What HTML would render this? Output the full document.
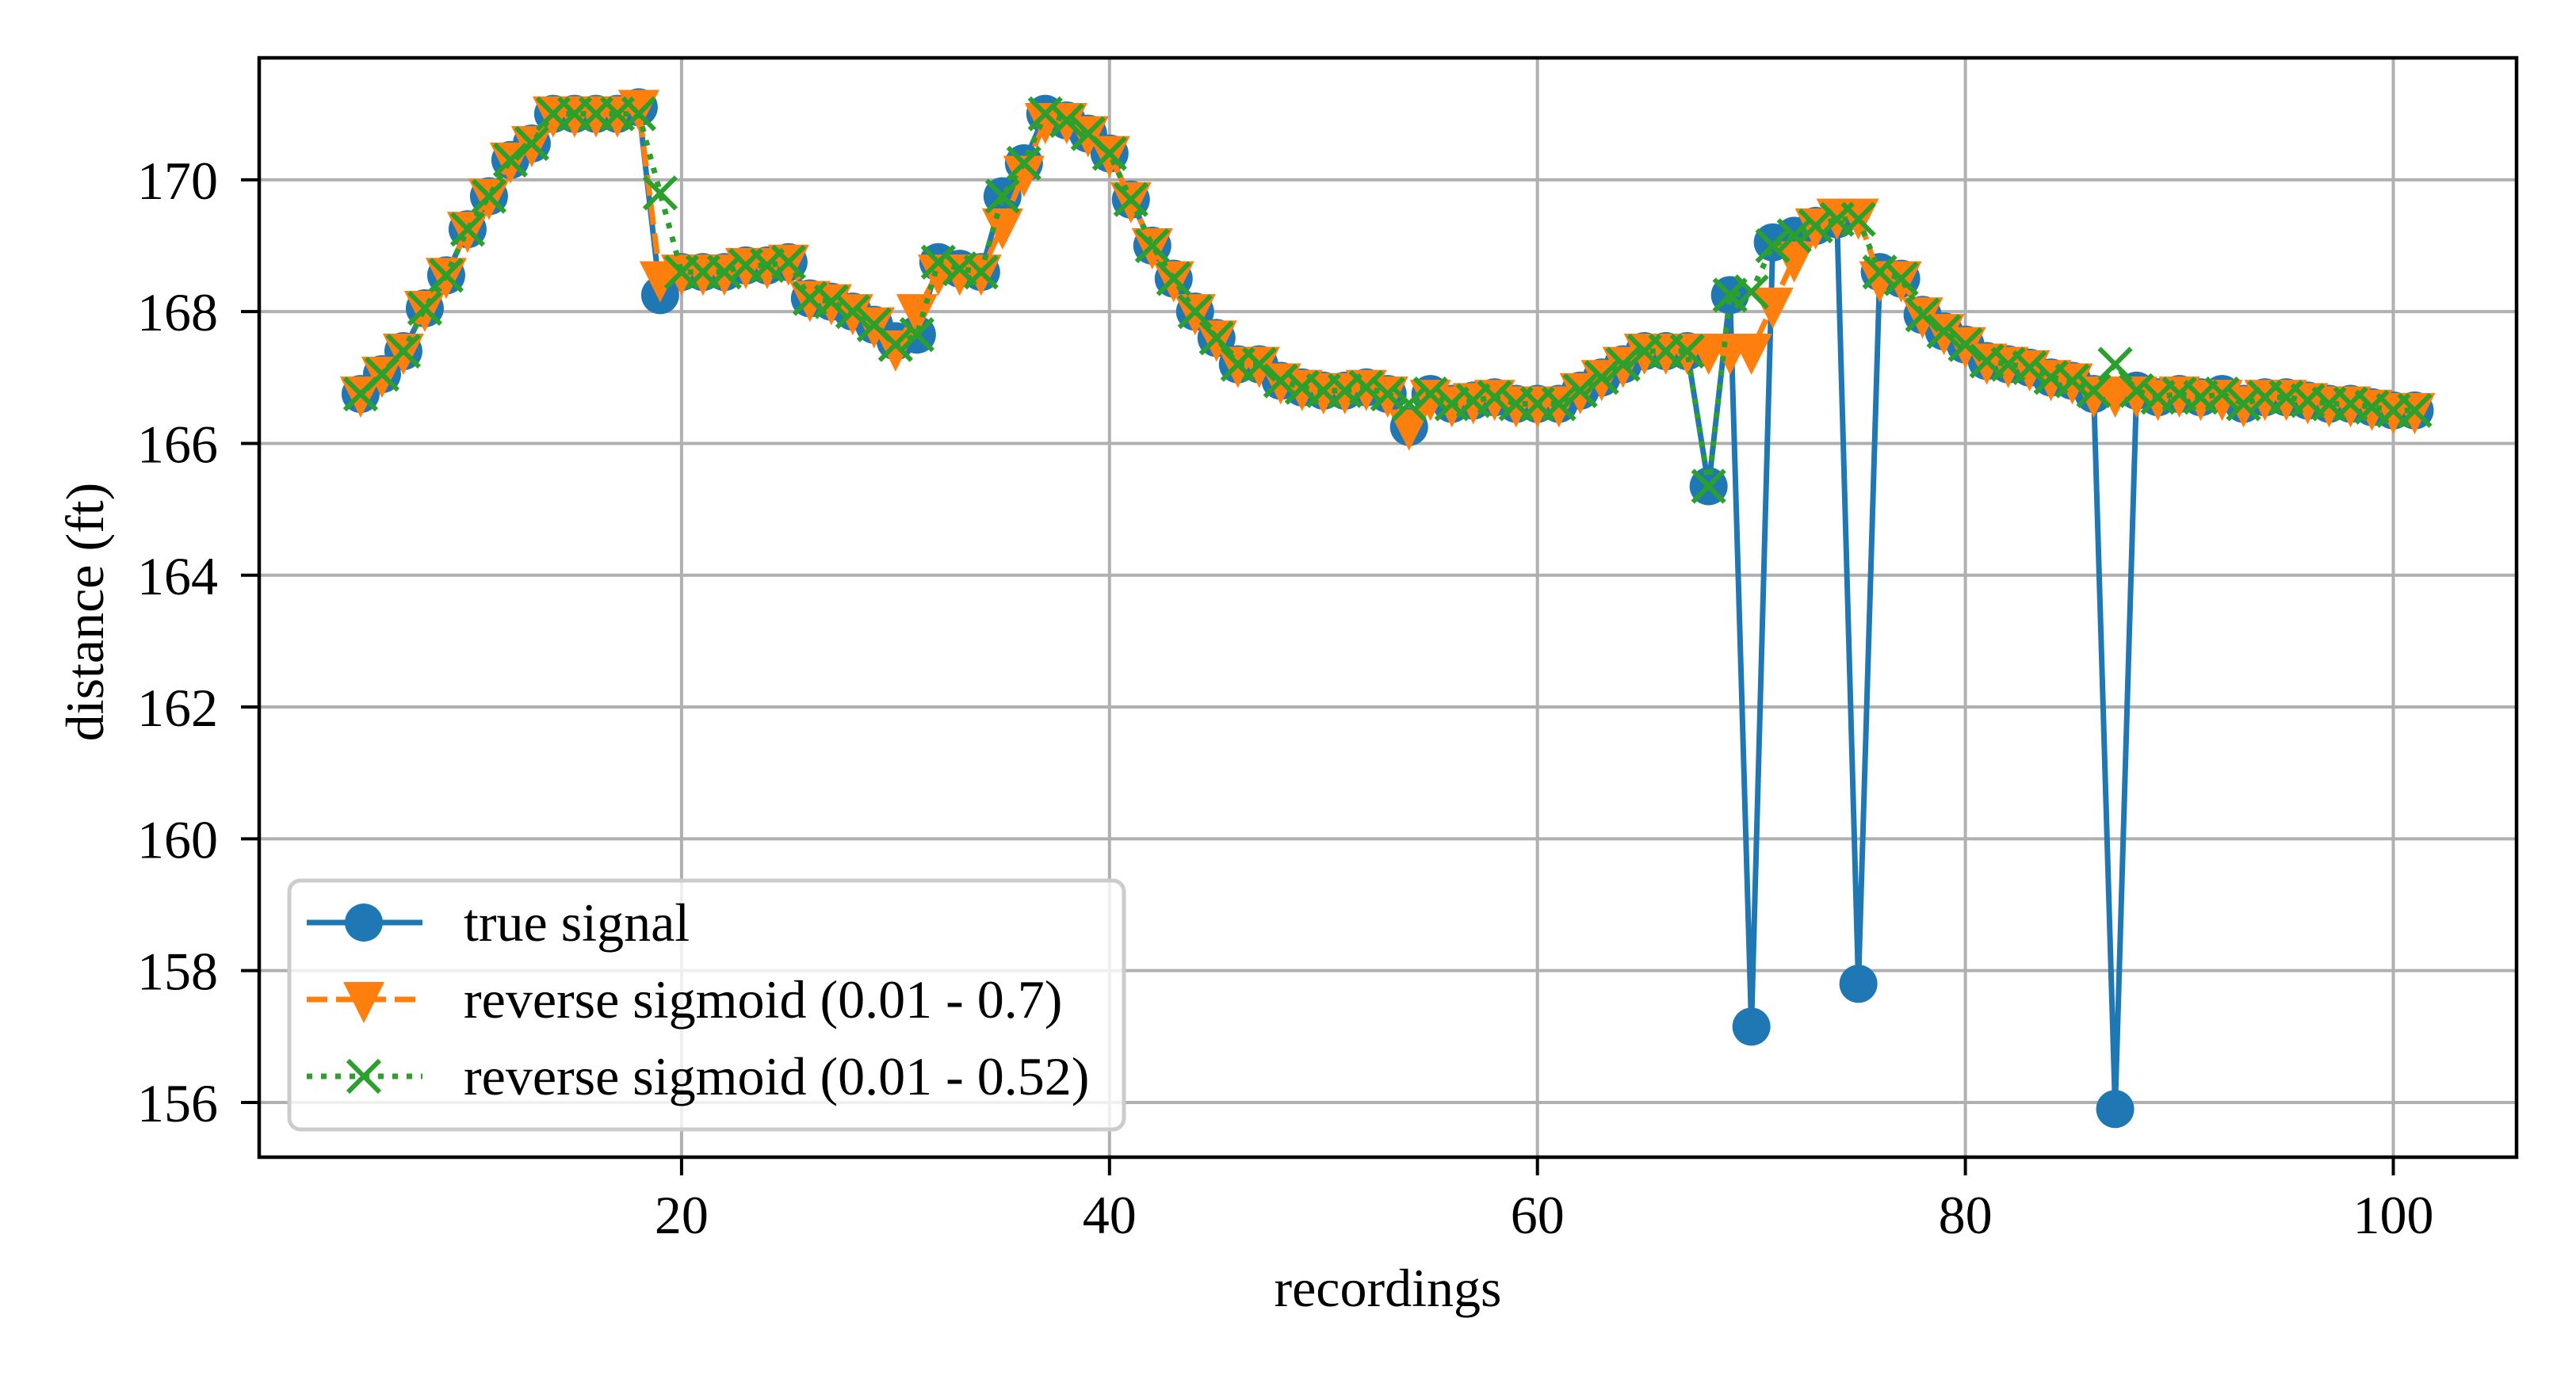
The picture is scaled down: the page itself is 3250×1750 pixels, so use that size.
<!DOCTYPE html>
<html><head><meta charset="utf-8"><style>
html,body{margin:0;padding:0;background:#fff;}
svg{display:block;font-family:"Liberation Serif","DejaVu Serif",serif;}
</style></head><body>
<svg id="chart" width="3250" height="1750" viewBox="0 0 3250 1750" xmlns="http://www.w3.org/2000/svg">
<rect width="3250" height="1750" fill="#fff"/>
<g id="grid"></g>
<g id="series"></g>
<rect x="327" y="73" width="2848" height="1387" fill="none" stroke="#000" stroke-width="4.5"/>
<g id="ticks"></g>
<text x="1751" y="1648" font-size="68" text-anchor="middle">recordings</text>
<text x="130" y="772" font-size="68" text-anchor="middle" transform="rotate(-90 130 772)">distance (ft)</text>
<g id="legend"></g>
</svg>
<script>
const xs = [];
for (let i = 5; i <= 101; i++) xs.push(i);
const trueSignal = [166.75,167.05,167.4,168.05,168.55,169.25,169.75,170.3,170.55,171.0,171.0,171.0,171.0,171.1,168.25,168.6,168.6,168.6,168.7,168.7,168.75,168.2,168.15,168.0,167.8,167.55,167.65,168.75,168.65,168.6,169.75,170.25,171.0,170.9,170.7,170.4,169.7,169.0,168.5,168.0,167.6,167.2,167.2,166.95,166.85,166.8,166.8,166.85,166.75,166.25,166.75,166.6,166.65,166.7,166.6,166.6,166.6,166.8,167.0,167.2,167.4,167.4,167.4,165.35,168.25,157.15,169.05,169.15,169.3,169.4,157.8,168.6,168.5,167.95,167.7,167.5,167.25,167.2,167.15,167.0,166.95,166.75,155.9,166.8,166.7,166.75,166.7,166.75,166.6,166.7,166.7,166.65,166.6,166.6,166.55,166.5,166.5];
const sigmoid07 = [166.75,167.05,167.4,168.05,168.55,169.25,169.75,170.3,170.55,171.0,171.0,171.0,171.0,171.1,168.5,168.6,168.6,168.6,168.7,168.7,168.75,168.2,168.15,168.0,167.8,167.45,168.0,168.6,168.6,168.6,169.3,170.1,170.9,170.9,170.7,170.4,169.7,169.0,168.5,168.0,167.6,167.2,167.2,166.95,166.85,166.8,166.8,166.85,166.75,166.25,166.7,166.6,166.65,166.7,166.6,166.6,166.6,166.8,167.0,167.2,167.4,167.4,167.4,167.4,167.4,167.4,168.1,168.8,169.3,169.45,169.45,168.5,168.5,167.95,167.7,167.5,167.25,167.2,167.15,167.0,166.95,166.75,166.75,166.75,166.7,166.75,166.7,166.7,166.6,166.7,166.7,166.65,166.6,166.6,166.55,166.5,166.5];
const sigmoid052 = [166.75,167.05,167.4,168.05,168.55,169.25,169.75,170.3,170.55,171.0,171.0,171.0,171.0,171.0,169.8,168.6,168.6,168.6,168.7,168.7,168.75,168.2,168.15,168.0,167.8,167.5,167.65,168.75,168.65,168.6,169.75,170.25,171.0,170.9,170.7,170.4,169.7,169.0,168.5,168.0,167.6,167.2,167.2,166.95,166.85,166.8,166.8,166.85,166.75,166.6,166.75,166.6,166.65,166.7,166.6,166.6,166.6,166.8,167.0,167.2,167.4,167.4,167.4,165.35,168.25,168.3,169.0,169.15,169.3,169.4,169.4,168.6,168.5,167.95,167.7,167.5,167.25,167.2,167.15,167.0,166.95,166.8,167.2,166.8,166.7,166.75,166.7,166.75,166.6,166.7,166.7,166.65,166.6,166.6,166.55,166.5,166.5];
const xTicks = [20,40,60,80,100];
const yTicks = [156,158,160,162,164,166,168,170];
const legendLabels = ["true signal","reverse sigmoid (0.01 - 0.7)","reverse sigmoid (0.01 - 0.52)"];

const L=327,R=3175,T=73,B=1460;
const X0=0.26,X1=105.76,Y0=155.17,Y1=171.85;
const sx=v=>L+(v-X0)/(X1-X0)*(R-L);
const sy=v=>B-(v-Y0)/(Y1-Y0)*(B-T);
const NS="http://www.w3.org/2000/svg";
function mk(tag,attrs,parent){const e=document.createElementNS(NS,tag);for(const k in attrs)e.setAttribute(k,attrs[k]);parent.appendChild(e);return e;}
const grid=document.getElementById('grid'),ticks=document.getElementById('ticks'),ser=document.getElementById('series'),leg=document.getElementById('legend');

xTicks.forEach(t=>{
  const g=mk('line',{x1:sx(t),x2:sx(t),y1:T,y2:B,stroke:'#b0b0b0','stroke-width':4},grid);
  
  
  const tk=mk('line',{x1:sx(t),x2:sx(t),y1:B,y2:B+23,stroke:'#000','stroke-width':4},ticks);
  
  
  const tx=mk('text',{x:sx(t),y:1556,'font-size':68,'text-anchor':'middle'},ticks);
  tx.textContent=t;
  
  
});
yTicks.forEach(t=>{
  const g=mk('line',{x1:L,x2:R,y1:sy(t),y2:sy(t),stroke:'#b0b0b0','stroke-width':4},grid);
  
  
  const tk=mk('line',{x1:L-23,x2:L,y1:sy(t),y2:sy(t),stroke:'#000','stroke-width':4},ticks);
  
  
  const tx=mk('text',{x:275,y:sy(t)+24,'font-size':68,'text-anchor':'end'},ticks);
  tx.textContent=t;
  
  
});

function marker(kind,x,y,color,parent){
  let e;
  if(kind==='o') e=mk('circle',{cx:x,cy:y,r:24,fill:color},parent);
  else if(kind==='v') e=mk('path',{d:`M${x-26},${y-22}L${x+26},${y-22}L${x},${y+30}Z`,fill:color},parent);
  else e=mk('path',{d:`M${x-20},${y-20}L${x+20},${y+20}M${x-20},${y+20}L${x+20},${y-20}`,stroke:color,'stroke-width':6,fill:'none'},parent);
  return e;
}
const specs=[
  {data:trueSignal,color:'#1f77b4',dash:'',m:'o',name:'true-signal'},
  {data:sigmoid07,color:'#ff7f0e',dash:'26,11',m:'v',name:'reverse-sigmoid-0-7'},
  {data:sigmoid052,color:'#2ca02c',dash:'7,11',m:'x',name:'reverse-sigmoid-0-52'}
];
specs.forEach(s=>{
  const g=mk('g',{},ser);
  
  
  const pts=s.data.map((v,i)=>sx(xs[i])+','+sy(v)).join(' ');
  const pl=mk('polyline',{points:pts,fill:'none',stroke:s.color,'stroke-width':7,'stroke-dasharray':s.dash,'stroke-linejoin':'round'},g);
  
  
  s.data.forEach((v,i)=>{
    const m=marker(s.m,sx(xs[i]),sy(v),s.color,g);
    
    
  });
});

const box=mk('rect',{x:365,y:1111,width:1053,height:314,rx:14,fill:'#fff','fill-opacity':0.8,stroke:'#cccccc','stroke-width':5},leg);


const rows=[1164,1261,1358];
specs.forEach((s,i)=>{
  const y=rows[i];
  const g=mk('g',{},leg);
  
  
  mk('line',{x1:387,x2:533,y1:y,y2:y,stroke:s.color,'stroke-width':7,'stroke-dasharray':s.dash},g);
  marker(s.m,459,y,s.color,g);
  const t=mk('text',{x:585,y:y+23,'font-size':68},g);
  t.textContent=legendLabels[i];
  
  
});
</script>
</body></html>
